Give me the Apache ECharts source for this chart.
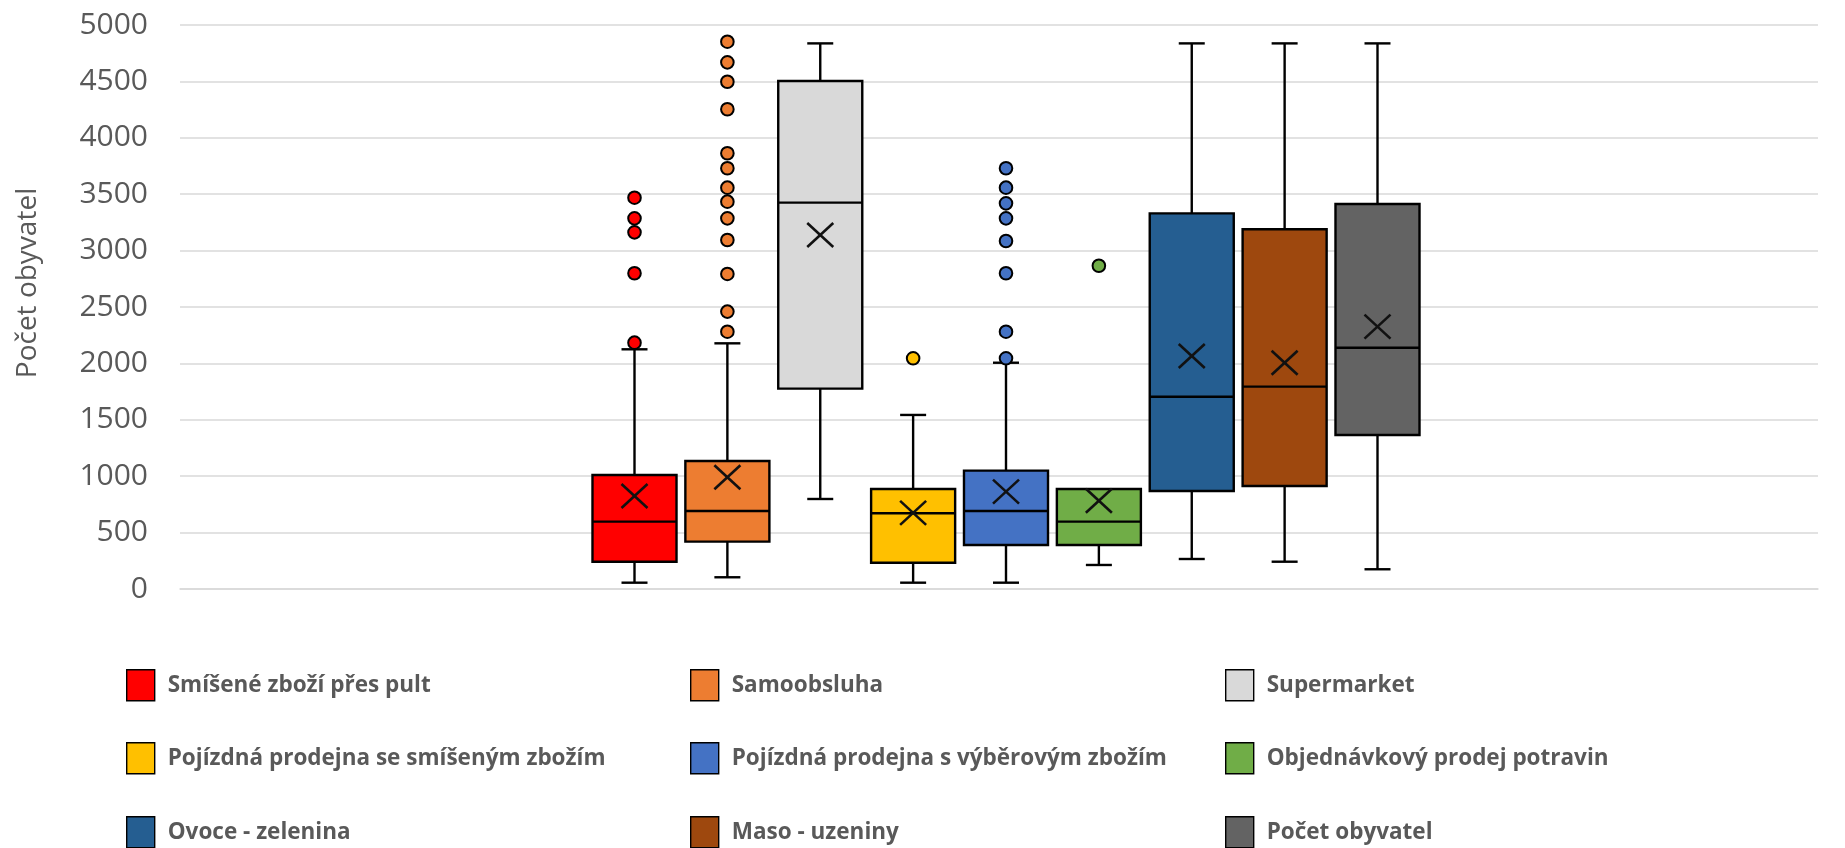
<!DOCTYPE html>
<html>
<head>
<meta charset="utf-8">
<script src="https://cdn.jsdelivr.net/npm/echarts@6/dist/echarts.min.js"></script>
<style>
html,body{margin:0;padding:0;background:#fff;}
#chart{width:1845px;height:848px;}
</style>
</head>
<body>
<div id="chart"></div>
<script>
// ---- data ----
const categories = [
  'Smíšené zboží přes pult',
  'Samoobsluha',
  'Supermarket',
  'Pojízdná prodejna se smíšeným zbožím',
  'Pojízdná prodejna s výběrovým zbožím',
  'Objednávkový prodej potravin',
  'Ovoce - zelenina',
  'Maso - uzeniny',
  'Počet obyvatel'
];
const axisTitle = 'Počet obyvatel';
// [min, q1, median, q3, max]
const boxStats = [
  [56, 242, 597, 1011, 2125],
  [104, 420, 691, 1135, 2178],
  [798, 1776, 3425, 4504, 4837],
  [56, 233, 671, 887, 1543],
  [56, 390, 691, 1049, 2006],
  [213, 390, 597, 887, 887],
  [266, 869, 1705, 3330, 4837],
  [242, 913, 1794, 3189, 4837],
  [175, 1365, 2139, 3413, 4837]
];
const means = [824, 990, 3138, 675, 863, 783, 2066, 2006, 2326];
const outliers = [
  [2184, 2799, 3162, 3286, 3469],
  [2281, 2459, 2793, 3094, 3286, 3434, 3558, 3730, 3863, 4253, 4497, 4669, 4852],
  [],
  [2045],
  [2045, 2281, 2799, 3085, 3286, 3419, 3558, 3730],
  [2866],
  [],
  [],
  []
];
const yTicks = {min: 0, max: 5000, interval: 500};
const colors = ['#FF0000', '#ED7D31', '#D9D9D9', '#FFC000', '#4472C4', '#70AD47', '#255E91', '#9E480E', '#636363'];

// ---- layout constants ----
const SPACING = 0.0567;  // fraction of band between box centres
const BOXW = 0.0513;     // fraction of band for box width
const SHIFT = 7;         // px shift of the group
const CAPW = 26;
const legendCols = [121, 685, 1220];
const legendRows = [664, 737, 811];

function xFor(api, i) {
  const c = api.coord([api.value(0), 0])[0];
  const band = api.size([1, 0])[0];
  return {x: c + SHIFT + (i - 4) * band * SPACING, w: band * BOXW};
}

function boxRenderer(i) {
  return function (params, api) {
    const p = xFor(api, i);
    const x = p.x, w = p.w;
    const y = k => api.coord([api.value(0), api.value(k)])[1];
    const yMin = y(1), yQ1 = y(2), yMed = y(3), yQ3 = y(4), yMax = y(5), yMean = y(6);
    const ls = {stroke: '#000', lineWidth: 2.4};
    const children = [];
    if (Math.abs(yMax - yQ3) > 0.5) {
      children.push({type: 'line', shape: {x1: x, y1: yMax, x2: x, y2: yQ3}, style: ls});
      children.push({type: 'line', shape: {x1: x - CAPW / 2, y1: yMax, x2: x + CAPW / 2, y2: yMax}, style: ls});
    }
    if (Math.abs(yMin - yQ1) > 0.5) {
      children.push({type: 'line', shape: {x1: x, y1: yQ1, x2: x, y2: yMin}, style: ls});
      children.push({type: 'line', shape: {x1: x - CAPW / 2, y1: yMin, x2: x + CAPW / 2, y2: yMin}, style: ls});
    }
    children.push({type: 'rect', shape: {x: x - w / 2, y: yQ3, width: w, height: yQ1 - yQ3},
      style: {fill: colors[i], stroke: '#000', lineWidth: 2.4}});
    children.push({type: 'line', shape: {x1: x - w / 2, y1: yMed, x2: x + w / 2, y2: yMed}, style: ls});
    const m = 13;
    const ms = {stroke: '#111', lineWidth: 2.6};
    children.push({type: 'line', shape: {x1: x - m, y1: yMean - m + 1, x2: x + m, y2: yMean + m - 1}, style: ms});
    children.push({type: 'line', shape: {x1: x - m, y1: yMean + m - 1, x2: x + m, y2: yMean - m + 1}, style: ms});
    return {type: 'group', children: children};
  };
}

function outlierRenderer(i) {
  return function (params, api) {
    const p = xFor(api, i);
    const yy = api.coord([api.value(0), api.value(1)])[1];
    return {type: 'circle', shape: {cx: p.x, cy: yy, r: 6.3}, style: {fill: colors[i], stroke: '#000', lineWidth: 2}};
  };
}

const series = [];
categories.forEach((name, i) => {
  series.push({
    type: 'custom', name: name,
    itemStyle: {color: colors[i]},
    renderItem: boxRenderer(i),
    encode: {x: 0, y: [1, 2, 3, 4, 5, 6]},
    data: [[0].concat(boxStats[i], [means[i]])],
    z: 3
  });
  series.push({
    type: 'custom', name: name,
    itemStyle: {color: colors[i]},
    renderItem: outlierRenderer(i),
    encode: {x: 0, y: 1},
    data: outliers[i].map(v => [0, v]),
    z: 4
  });
});

const legends = categories.map((name, i) => ({
  data: [name],
  left: legendCols[i % 3],
  top: legendRows[Math.floor(i / 3)],
  icon: 'rect',
  itemWidth: 28,
  itemHeight: 31,
  itemGap: 10,
  itemStyle: {borderColor: '#000', borderWidth: 1.4},
  selectedMode: false,
  textStyle: {fontFamily: "'Open Sans', sans-serif", fontWeight: 'bold', fontSize: 22.5, color: '#595959', padding: [0, 0, 0, 8]}
}));

const chart = echarts.init(document.getElementById('chart'));
chart.setOption({
  animation: false,
  backgroundColor: '#fff',
  grid: {left: 180, right: 27, top: 25, bottom: 259, containLabel: false},
  xAxis: {
    type: 'category', data: [''], boundaryGap: true,
    axisLine: {lineStyle: {color: '#d9d9d9', width: 1.5}},
    axisTick: {show: false}, axisLabel: {show: false}
  },
  yAxis: {
    type: 'value', min: yTicks.min, max: yTicks.max, interval: yTicks.interval,
    axisLine: {show: false}, axisTick: {show: false},
    axisLabel: {fontFamily: "'Open Sans', sans-serif", fontSize: 30, color: '#595959', margin: 32,
      formatter: v => String(v)},
    splitLine: {lineStyle: {color: '#d9d9d9', width: 1.5}}
  },
  graphic: [{
    type: 'text', x: 28, y: 283, rotation: Math.PI / 2,
    style: {text: axisTitle, font: "28px 'Open Sans', sans-serif", fill: '#595959', align: 'center', verticalAlign: 'middle'}
  }],
  legend: legends,
  series: series
});
</script>
</body>
</html>
